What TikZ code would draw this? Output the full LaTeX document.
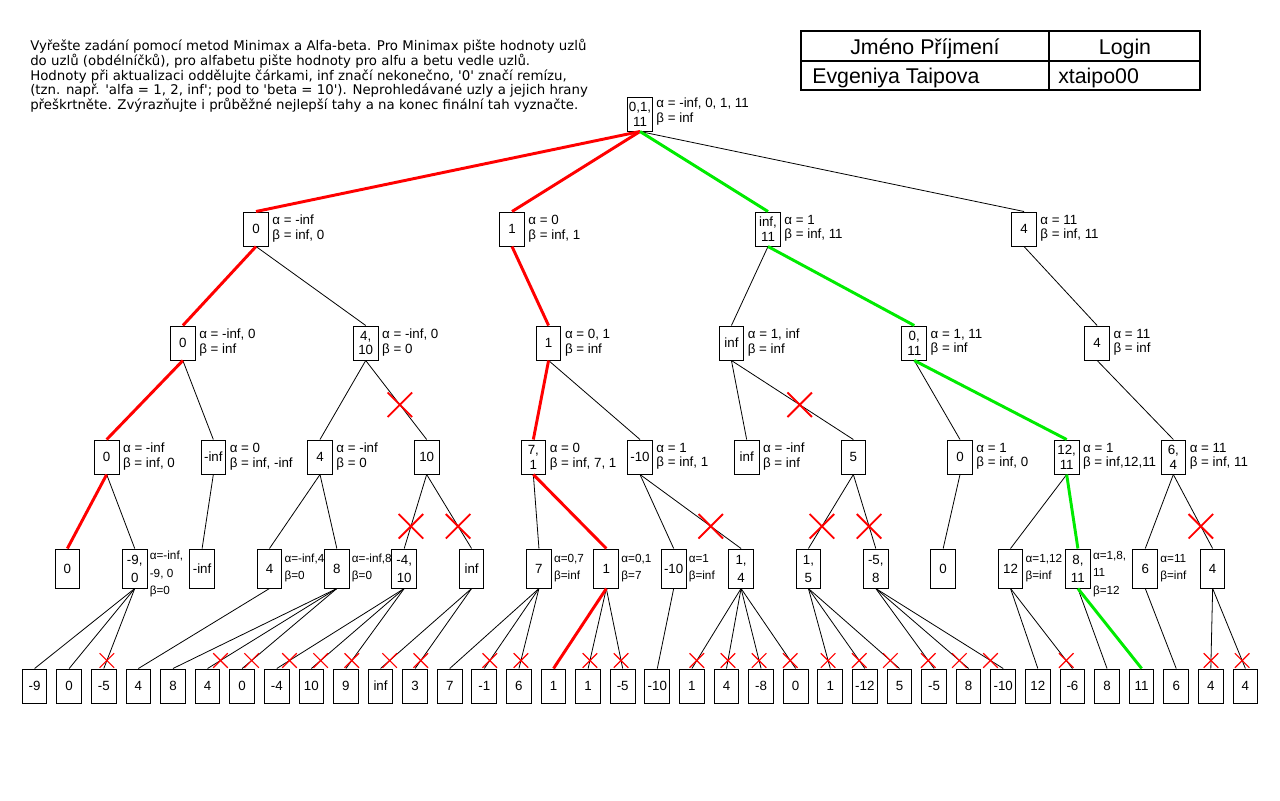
\documentclass[tikz,border=0pt]{standalone}
\usepackage{fontspec}
\setmainfont{Liberation Sans}[Ligatures=TeXOff]
\newfontfamily\notefont{DejaVu Sans}[Ligatures=TeXOff]
\usetikzlibrary{shapes.misc}
\definecolor{best}{RGB}{255,0,0}
\definecolor{final}{RGB}{0,235,0}

\begin{document}
\begin{tikzpicture}[x=0.75pt, y=-0.75pt,
  box/.style={draw, line width=0.75pt, fill=white, minimum width=18.5pt,
    minimum height=25.5pt, inner sep=0pt, align=center,
    font=\fontsize{10pt}{11.2pt}\selectfont},
  deepbox/.style={box, minimum height=29.25pt,
    font=\fontsize{10pt}{13.5pt}\selectfont},
  ab/.style={anchor=north west, inner sep=0pt, align=left,
    font=\fontsize{10pt}{11pt}\selectfont},
  abs/.style={anchor=north west, inner sep=0pt, align=left,
    font=\fontsize{8.8pt}{13pt}\selectfont},
  edge/.style={line width=0.6pt},
  bestedge/.style={line width=2.2pt, draw=best},
  finaledge/.style={line width=2.2pt, draw=final},
  bigx/.style={cross out, draw=red, line width=1.4pt, minimum width=17pt,
    minimum height=17pt, inner sep=0pt},
  smallx/.style={cross out, draw=red, line width=0.9pt, minimum width=10pt,
    minimum height=10pt, inner sep=0pt},
  head/.style={inner sep=0pt, font=\fontsize{16pt}{18pt}\selectfont},
]
\useasboundingbox (0,0) rectangle (1280,800);
\fill[white] (0,0) rectangle (1280,800);

% assignment text
\node[anchor=north west, inner sep=0pt, align=left,
      font=\notefont\fontsize{10pt}{11.05pt}\selectfont] (note) at (30,39)
{Vyřešte zadání pomocí metod Minimax a Alfa-beta. Pro Minimax pište hodnoty uzlů\\
do uzlů (obdélníčků), pro alfabetu pište hodnoty pro alfu a betu vedle uzlů.\\
Hodnoty při aktualizaci oddělujte čárkami, inf značí nekonečno, '0' značí remízu,\\
(tzn. např. 'alfa = 1, 2, inf'; pod to 'beta = 10'). Neprohledávané uzly a jejich hrany\\
přeškrtněte. Zvýrazňujte i průběžné nejlepší tahy a na konec finální tah vyznačte.};

% name table
\draw[line width=1.6pt] (801,31) rectangle (1200,90);
\draw[line width=1.6pt] (801,61) -- (1200,61);
\draw[line width=1.6pt] (1049,31) -- (1049,90);
\node[head] (hname) at (925,48.5) {Jméno Příjmení};
\node[head] (hlogin) at (1125,48.5) {Login};
\node[head, anchor=west] (vname) at (812,77.5) {Evgeniya Taipova};
\node[head, anchor=west] (vlogin) at (1058,77.5) {xtaipo00};

% root (MAX)
\node[box] (r) at (640,114) {0,1,\\11};
\node[ab] (lr) at ([xshift=2.5pt,yshift=-1pt]r.north east) {α = -inf, 0, 1, 11\\β = inf};

% level 1 (MIN)
\node[box] (a) at (256,229) {0};
\node[box] (b) at (512,229) {1};
\node[box] (c) at (768,229) {inf,\\11};
\node[box] (d) at (1024,229) {4};
\node[ab] (la) at ([xshift=2.5pt,yshift=-2.5pt]a.north east) {α = -inf\\β = inf, 0};
\node[ab] (lb) at ([xshift=2.5pt,yshift=-2.5pt]b.north east) {α = 0\\β = inf, 1};
\node[ab] (lc) at ([xshift=2.5pt,yshift=-2.5pt]c.north east) {α = 1\\β = inf, 11};
\node[ab] (ld) at ([xshift=2.5pt,yshift=-2.5pt]d.north east) {α = 11\\β = inf, 11};

% level 2 (MAX)
\node[box] (aa) at ({1*(1280/7)},343) {0};
\node[box] (ab) at ({2*(1280/7)},343) {4,\\10};
\node[box] (ba) at ({3*(1280/7)},343) {1};
\node[box] (ca) at ({4*(1280/7)},343) {inf};
\node[box] (cb) at ({5*(1280/7)},343) {0,\\11};
\node[box] (da) at ({6*(1280/7)},343) {4};
\node[ab] (laa) at ([xshift=2.5pt,yshift=-2.5pt]aa.north east) {α = -inf, 0\\β = inf};
\node[ab] (lab) at ([xshift=2.5pt,yshift=-2.5pt]ab.north east) {α = -inf, 0\\β = 0};
\node[ab] (lba) at ([xshift=2.5pt,yshift=-2.5pt]ba.north east) {α = 0, 1\\β = inf};
\node[ab] (lca) at ([xshift=2.5pt,yshift=-2.5pt]ca.north east) {α = 1, inf\\β = inf};
\node[ab] (lcb) at ([xshift=2.5pt,yshift=-2.5pt]cb.north east) {α = 1, 11\\β = inf};
\node[ab] (lda) at ([xshift=2.5pt,yshift=-2.5pt]da.north east) {α = 11\\β = inf};

% level 3 (MIN)
\node[box] (n1) at ({1*(1280/12)},457) {0};
\node[box] (n2) at ({2*(1280/12)},457) {-inf};
\node[box] (n3) at ({3*(1280/12)},457) {4};
\node[box] (n4) at ({4*(1280/12)},457) {10};
\node[box] (n5) at ({5*(1280/12)},457) {7,\\1};
\node[box] (n6) at ({6*(1280/12)},457) {-10};
\node[box] (n7) at ({7*(1280/12)},457) {inf};
\node[box] (n8) at ({8*(1280/12)},457) {5};
\node[box] (n9) at ({9*(1280/12)},457) {0};
\node[box] (n10) at ({10*(1280/12)},457) {12,\\11};
\node[box] (n11) at ({11*(1280/12)},457) {6,\\4};
\node[ab] (ln1) at ([xshift=2.5pt,yshift=-2.5pt]n1.north east) {α = -inf\\β = inf, 0};
\node[ab] (ln2) at ([xshift=2.5pt,yshift=-2.5pt]n2.north east) {α = 0\\β = inf, -inf};
\node[ab] (ln3) at ([xshift=2.5pt,yshift=-2.5pt]n3.north east) {α = -inf\\β = 0};
\node[ab] (ln5) at ([xshift=2.5pt,yshift=-2.5pt]n5.north east) {α = 0\\β = inf, 7, 1};
\node[ab] (ln6) at ([xshift=2.5pt,yshift=-2.5pt]n6.north east) {α = 1\\β = inf, 1};
\node[ab] (ln7) at ([xshift=2.5pt,yshift=-2.5pt]n7.north east) {α = -inf\\β = inf};
\node[ab] (ln9) at ([xshift=2.5pt,yshift=-2.5pt]n9.north east) {α = 1\\β = inf, 0};
\node[ab] (ln10) at ([xshift=2.5pt,yshift=-2.5pt]n10.north east) {α = 1\\β = inf,12,11};
\node[ab] (ln11) at ([xshift=2.5pt,yshift=-2.5pt]n11.north east) {α = 11\\β = inf, 11};

% level 4 (MAX)
\node[deepbox] (m1) at ({1*(1280/19)},568.5) {0};
\node[deepbox] (m2) at ({2*(1280/19)},568.5) {-9,\\0};
\node[deepbox] (m3) at ({3*(1280/19)},568.5) {-inf};
\node[deepbox] (m4) at ({4*(1280/19)},568.5) {4};
\node[deepbox] (m5) at ({5*(1280/19)},568.5) {8};
\node[deepbox] (m6) at ({6*(1280/19)},568.5) {-4,\\10};
\node[deepbox] (m7) at ({7*(1280/19)},568.5) {inf};
\node[deepbox] (m8) at ({8*(1280/19)},568.5) {7};
\node[deepbox] (m9) at ({9*(1280/19)},568.5) {1};
\node[deepbox] (m10) at ({10*(1280/19)},568.5) {-10};
\node[deepbox] (m11) at ({11*(1280/19)},568.5) {1,\\4};
\node[deepbox] (m12) at ({12*(1280/19)},568.5) {1,\\5};
\node[deepbox] (m13) at ({13*(1280/19)},568.5) {-5,\\8};
\node[deepbox] (m14) at ({14*(1280/19)},568.5) {0};
\node[deepbox] (m15) at ({15*(1280/19)},568.5) {12};
\node[deepbox] (m16) at ({16*(1280/19)},568.5) {8,\\11};
\node[deepbox] (m17) at ({17*(1280/19)},568.5) {6};
\node[deepbox] (m18) at ({18*(1280/19)},568.5) {4};
\node[abs] (lm2) at ([xshift=1.5pt,yshift=-2pt]m2.north east) {α=-inf,\\-9, 0\\β=0};
\node[abs] (lm4) at ([xshift=1.5pt,yshift=-4pt]m4.north east) {α=-inf,4\\β=0};
\node[abs] (lm5) at ([xshift=1.5pt,yshift=-4pt]m5.north east) {α=-inf,8\\β=0};
\node[abs] (lm8) at ([xshift=1.5pt,yshift=-4pt]m8.north east) {α=0,7\\β=inf};
\node[abs] (lm9) at ([xshift=1.5pt,yshift=-4pt]m9.north east) {α=0,1\\β=7};
\node[abs] (lm10) at ([xshift=1.5pt,yshift=-4pt]m10.north east) {α=1\\β=inf};
\node[abs] (lm15) at ([xshift=1.5pt,yshift=-4pt]m15.north east) {α=1,12\\β=inf};
\node[abs] (lm16) at ([xshift=1.5pt,yshift=-2pt]m16.north east) {α=1,8,\\11\\β=12};
\node[abs] (lm17) at ([xshift=1.5pt,yshift=-4pt]m17.north east) {α=11\\β=inf};

% leaves
\foreach \v [count=\i] in {-9,0,-5,4,8,4,0,-4,10,9,inf,3,7,-1,6,1,1,-5,-10,1,4,-8,0,1,-12,5,-5,8,-10,12,-6,8,11,6,4,4}
  \node[box] (l\i) at ({\i*(1280/37)},686) {\v};

% plain edges
\foreach \p/\q in {r/d, a/ab, c/ca, d/da, aa/n2, ab/n3, ba/n6, ca/n7, cb/n9, da/n11,
    n1/m2, n2/m3, n3/m4, n3/m5, n5/m8, n6/m10, n9/m14, n10/m15, n11/m17,
    m2/l1, m2/l2, m4/l4, m5/l5, m8/l13, m10/l19, m15/l30, m16/l32, m17/l34}
  \draw[edge] (\p.south) -- (\q.north);

% pruned edges between inner nodes
\foreach \p/\q in {ab/n4, ca/n8}
  \draw[edge] (\p.south) -- node[bigx, pos=0.56, name=x-\q] {} (\q.north);
\foreach \p/\q in {n4/m6, n4/m7, n6/m11, n8/m12, n8/m13, n11/m18}
  \draw[edge] (\p.south) -- node[bigx, pos=0.7, name=x-\q] {} (\q.north);

% pruned leaf edges
\foreach \p/\q in {m2/l3, m5/l6, m5/l7, m6/l8, m6/l9, m6/l10, m7/l11, m7/l12,
    m8/l14, m8/l15, m9/l17, m9/l18, m11/l20, m11/l21, m11/l22, m11/l23,
    m12/l24, m12/l25, m12/l26, m13/l27, m13/l28, m13/l29, m15/l31, m18/l35, m18/l36}
  \draw[edge] (\p.south) -- node[smallx, pos=0.9, name=x-\q] {} (\q.north);

% best moves found along the way
\foreach \p/\q in {r/a, r/b, a/aa, b/ba, aa/n1, ba/n5, n1/m1, n5/m9, m9/l16}
  \draw[bestedge] (\p.south) -- (\q.north);

% final move
\foreach \p/\q in {r/c, c/cb, cb/n10, n10/m16, m16/l33}
  \draw[finaledge] (\p.south) -- (\q.north);
\end{tikzpicture}
\end{document}
